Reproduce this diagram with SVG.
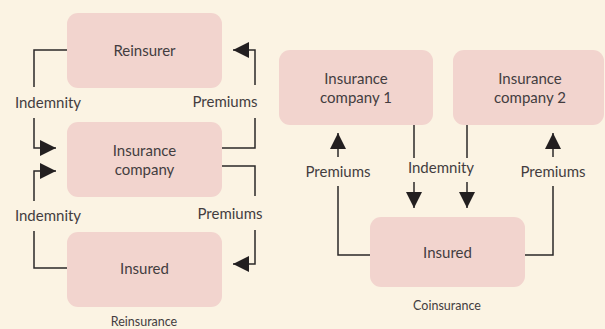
<svg xmlns="http://www.w3.org/2000/svg" width="605" height="329" viewBox="0 0 605 329">
<defs>
<marker id="ah" markerUnits="userSpaceOnUse" markerWidth="16" markerHeight="16" refX="16" refY="8" orient="auto">
<path d="M0,0 L16,8 L0,16 z" fill="#231f20"/>
</marker>
<style>
.box{fill:#f2d4ce;}
.t{font-family:Lato,"Open Sans",sans-serif;font-size:15px;fill:#433d3f;text-anchor:middle;}
.c{font-family:Lato,"Open Sans",sans-serif;font-size:12.5px;fill:#433d3f;text-anchor:middle;}
.l{fill:none;stroke:#2b2829;stroke-width:1.5;}
</style>
</defs>
<rect width="605" height="329" fill="#fbf3e3"/>
<g id="reinsurer"><rect class="box" x="67" y="13" width="155" height="75" rx="11"/><text class="t" x="144.5" y="55.5">Reinsurer</text></g>
<g id="insurance-company"><rect class="box" x="67" y="122" width="155" height="75" rx="11"/><text class="t" x="144.5" y="155.5">Insurance</text><text class="t" x="144.5" y="174.5">company</text></g>
<g id="insured-left"><rect class="box" x="67" y="232" width="155" height="75" rx="11"/><text class="t" x="144.5" y="273.5">Insured</text></g>
<g id="insurance-company-1"><rect class="box" x="279" y="50" width="154" height="75" rx="11"/><text class="t" x="356" y="83.5">Insurance</text><text class="t" x="356" y="102.5">company 1</text></g>
<g id="insurance-company-2"><rect class="box" x="453" y="50" width="151" height="75" rx="11"/><text class="t" x="530" y="83.5">Insurance</text><text class="t" x="530" y="102.5">company 2</text></g>
<g id="insured-right"><rect class="box" x="370" y="217" width="155" height="70" rx="11"/><text class="t" x="447.5" y="257.5">Insured</text></g>
<g id="captions"><text class="c" x="144" y="325.5">Reinsurance</text><text class="c" x="447" y="309.5">Coinsurance</text></g>
<g id="connectors">
<path class="l" d="M67,50 H34 V87"/>
<path class="l" d="M34,118 V148 H56" marker-end="url(#ah)"/>
<path class="l" d="M67,268 H34 V231"/>
<path class="l" d="M34,201 V171 H56" marker-end="url(#ah)"/>
<path class="l" d="M222,148 H255 V118"/>
<path class="l" d="M255,85 V50 H233" marker-end="url(#ah)"/>
<path class="l" d="M222,166 H255 V196"/>
<path class="l" d="M255,230 V264 H233" marker-end="url(#ah)"/>
<path class="l" d="M370,255 H338 V186"/>
<path class="l" d="M338,157 V133" marker-end="url(#ah)"/>
<path class="l" d="M525,255 H553 V186"/>
<path class="l" d="M553,157 V133" marker-end="url(#ah)"/>
<path class="l" d="M414,125 V158"/>
<path class="l" d="M414,182 V208" marker-end="url(#ah)"/>
<path class="l" d="M467,125 V158"/>
<path class="l" d="M467,182 V208" marker-end="url(#ah)"/>
<text class="t" x="48" y="108">Indemnity</text>
<text class="t" x="48" y="221">Indemnity</text>
<text class="t" x="225" y="107">Premiums</text>
<text class="t" x="230" y="219">Premiums</text>
<text class="t" x="338" y="177">Premiums</text>
<text class="t" x="553" y="177">Premiums</text>
<text class="t" x="441" y="172.5">Indemnity</text>
</g>
</svg>
